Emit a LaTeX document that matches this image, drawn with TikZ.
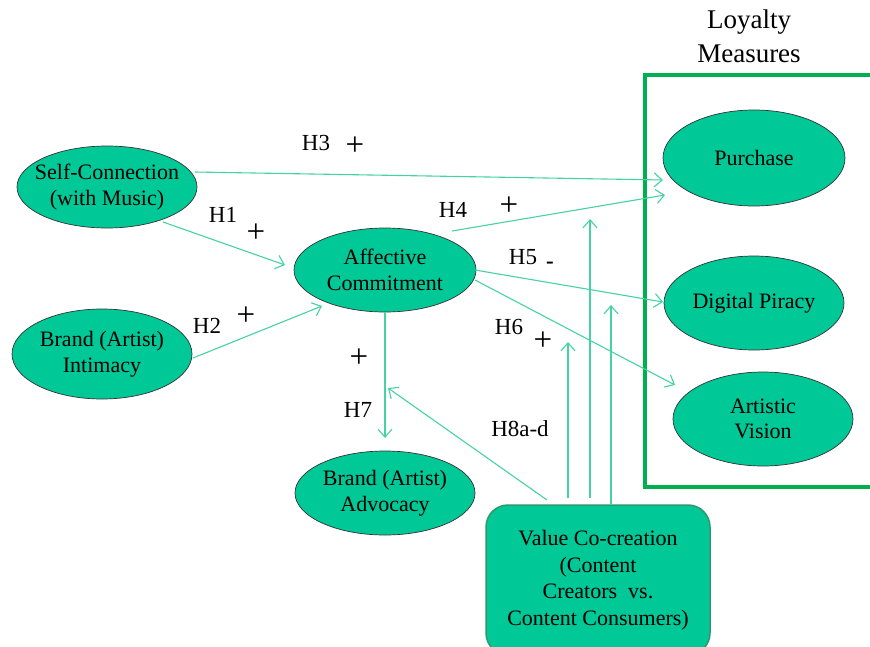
\documentclass[tikz,border=0pt]{standalone}
\usepackage{fontspec}
\setmainfont{Liberation Serif}
\usetikzlibrary{arrows.meta,calc,shapes.geometric}
\definecolor{nodefill}{HTML}{00C896}
\definecolor{linegreen}{HTML}{45D3A3}
\definecolor{framegreen}{HTML}{00B050}
\definecolor{boxborder}{HTML}{2A9A6C}
\begin{document}
\begin{tikzpicture}[x=1pt,y=-1pt,
 ell/.style={ellipse, draw=black!80, line width=0.7pt, fill=nodefill, inner xsep=-30pt, inner ysep=0pt, align=center, font=\fontsize{22}{25.5}\selectfont},
 conn/.style={draw=linegreen, line width=1.1pt, -{Straight Barb[length=8pt,width=14pt]}},
 lbl/.style={font=\fontsize{23}{26}\selectfont, inner sep=0pt},
 plus/.style={font=\fontsize{33}{36}\selectfont, inner sep=0pt}
]
\useasboundingbox (0,0) rectangle (870,646);
\clip (0,0) rectangle (870,646);
\fill[white] (0,0) rectangle (870,646);

% loyalty frame
\draw[framegreen, line width=3.5pt] (645,75) rectangle (900,487);
\node[font=\fontsize{27}{34}\selectfont, align=center, inner sep=0pt] (title) at (749,36) {Loyalty\\Measures};

% nodes
\node[ell, minimum width=180pt, minimum height=82pt] (sc) at (107,187) {Self-Connection\\(with Music)};
\node[ell, minimum width=180pt, minimum height=90pt] (bi) at (102,354) {Brand (Artist)\\Intimacy};
\node[ell, minimum width=182pt, minimum height=84pt] (ac) at (385,270) {Affective\\Commitment};
\node[ell, minimum width=180pt, minimum height=84pt] (ba) at (385,493) {Brand (Artist)\\Advocacy};
\node[ell, minimum width=182pt, minimum height=96pt] (pu) at (754,158) {Purchase};
\node[ell, minimum width=180pt, minimum height=94pt] (dp) at (754,303) {Digital Piracy};
\node[ell, minimum width=180pt, minimum height=94pt] (av) at (763,419) {Artistic\\Vision};
\node[draw=boxborder, line width=1.5pt, fill=nodefill, rounded corners=22pt,
      minimum width=224pt, minimum height=150pt, align=center,
      font=\fontsize{22}{26.5}\selectfont] (vc) at (598,580)
      {Value Co-creation\\(Content\\Creators~~vs.\\Content Consumers)};

% connectors
\draw[conn] ($(sc)+(88,-15)$) -- ($(pu)+(-91,22)$);
\draw[conn] ($(sc)+(56,35)$) -- ($(ac)+(-100,-5)$);
\draw[conn] ($(bi)+(91,4)$) -- ($(ac)+(-63,36)$);
\draw[conn] ($(ac)+(67,-39)$) -- ($(pu)+(-89,37)$);
\draw[conn] ($(ac)+(90,0)$) -- ($(dp)+(-91,-1)$);
\draw[conn] ($(ac)+(90,10)$) -- ($(av)+(-88,-34)$);
\draw[conn] ($(ac)+(0,42)$) -- ($(ba)+(0,-55)$);
\draw[conn] ($(vc)+(-51,-80)$) -- ($(ac)+(3,118)$);
\draw[conn] ($(vc)+(-30,-82)$) -- ($(vc)+(-30,-238)$);
\draw[conn] ($(vc)+(-8,-82)$) -- ($(vc)+(-8,-361)$);
\draw[conn] ($(vc)+(13,-75)$) -- ($(vc)+(13,-275)$);

% labels
\node[lbl] (l3) at (316,143) {H3};
\node[plus] (p3) at (355,146) {+};
\node[lbl] (l1) at (223,215) {H1};
\node[plus] (p1) at (256,233) {+};
\node[lbl] (l2) at (207,326) {H2};
\node[plus] (p2) at (246,316) {+};
\node[lbl] (l4) at (453,210) {H4};
\node[plus] (p4) at (509,206) {+};
\node[lbl] (l5) at (523,257) {H5};
\node[lbl] (m5) at (550,265) {\textbf{-}};
\node[lbl] (l6) at (509,327) {H6};
\node[plus] (p6) at (543,341) {+};
\node[plus] (p7) at (359,358) {+};
\node[lbl] (l7) at (358,410) {H7};
\node[lbl] (l8) at (520,429) {H8a-d};
\end{tikzpicture}
\end{document}
